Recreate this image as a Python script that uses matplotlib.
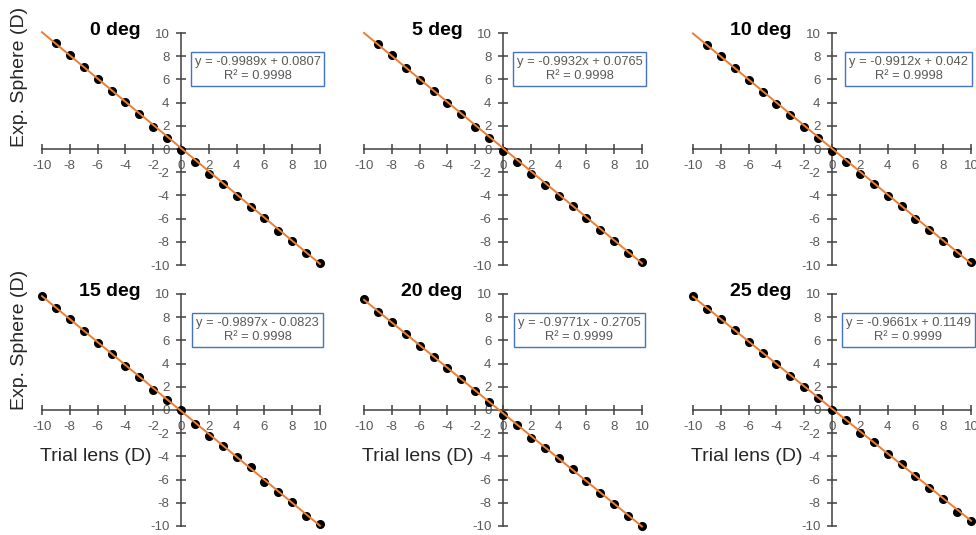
import numpy as np
import matplotlib.pyplot as plt

plt.rcParams['font.family'] = ['Liberation Sans', 'DejaVu Sans']
plt.rcParams['axes.unicode_minus'] = False

# angles and fitted trendlines
titles = ['0 deg', '5 deg', '10 deg', '15 deg', '20 deg', '25 deg']
slopes = [-0.9989, -0.9932, -0.9912, -0.9897, -0.9771, -0.9661]
intercepts = [0.0807, 0.0765, 0.042, -0.0823, -0.2705, 0.1149]
equations = ['y = -0.9989x + 0.0807', 'y = -0.9932x + 0.0765', 'y = -0.9912x + 0.042',
             'y = -0.9897x - 0.0823', 'y = -0.9771x - 0.2705', 'y = -0.9661x + 0.1149']
r2_labels = ['R² = 0.9998', 'R² = 0.9998', 'R² = 0.9998',
             'R² = 0.9998', 'R² = 0.9999', 'R² = 0.9999']

# trial lens values (D)
trial_top = [-9, -8, -7, -6, -5, -4, -3, -2, -1, 0, 1, 2, 3, 4, 5, 6, 7, 8, 9, 10]
trial_bottom = [-10, -9, -8, -7, -6, -5, -4, -3, -2, -1, 0, 1, 2, 3, 4, 5, 6, 7, 8, 9, 10]

sphere_0 = [9.11, 8.10, 7.04, 6.00, 5.02, 4.04, 3.00, 1.91, 0.99, -0.10,
            -1.10, -2.14, -3.04, -4.07, -4.96, -5.97, -7.04, -7.96, -8.99, -9.86]
sphere_5 = [9.05, 8.07, 6.98, 5.97, 4.96, 3.96, 2.98, 1.86, 0.91, -0.13,
            -1.08, -2.14, -3.09, -4.04, -4.91, -5.97, -6.98, -7.93, -8.94, -9.78]
sphere_10 = [8.96, 7.98, 6.95, 5.91, 4.94, 3.90, 2.92, 1.86, 0.91, -0.16,
             -1.14, -2.14, -3.04, -4.04, -4.91, -6.03, -6.98, -7.93, -8.99, -9.77]
sphere_15 = [9.86, 8.80, 7.85, 6.81, 5.78, 4.81, 3.83, 2.83, 1.76, 0.85, -0.04,
             -1.19, -2.25, -3.11, -4.06, -4.92, -6.18, -7.04, -7.96, -9.14, -9.86]
sphere_20 = [9.57, 8.47, 7.55, 6.52, 5.52, 4.58, 3.63, 2.63, 1.60, 0.68, -0.39,
             -1.33, -2.42, -3.26, -4.17, -5.12, -6.15, -7.16, -8.08, -9.14, -10.0]
sphere_25 = [9.80, 8.74, 7.88, 6.87, 5.84, 4.89, 3.97, 2.94, 1.96, 1.02, -0.01,
             -0.87, -2.02, -2.73, -3.77, -4.63, -5.68, -6.75, -7.64, -8.76, -9.56]

xs = [trial_top] * 3 + [trial_bottom] * 3
ys = [sphere_0, sphere_5, sphere_10, sphere_15, sphere_20, sphere_25]

W, H = 976, 535
fig = plt.figure(figsize=(W / 100, H / 100), dpi=100)

lefts = [42, 364, 693]
tops = [33, 294]
aw, ah = 278, 232

ticks = np.arange(-10, 11, 2)
for i in range(6):
    row, col = divmod(i, 3)
    ax = fig.add_axes([lefts[col] / W, 1 - (tops[row] + ah) / H, aw / W, ah / H])
    ax.set_xlim(-10, 10)
    ax.set_ylim(-10, 10)
    for s in ['top', 'right']:
        ax.spines[s].set_visible(False)
    for s in ['left', 'bottom']:
        ax.spines[s].set_position(('data', 0))
        ax.spines[s].set_color('#404040')
        ax.spines[s].set_linewidth(1.1)
    ax.set_xticks(ticks)
    ax.set_yticks(ticks)
    ax.tick_params(direction='inout', length=6.5, width=1.1, color='#404040',
                   labelcolor='#595959', labelsize=9.5, pad=5)
    ax.patch.set_alpha(0)

    ax.plot(xs[i], ys[i], 'o', color='black', markersize=5.5, clip_on=False, zorder=3)
    xl = np.array([-10, 10])
    ax.plot(xl, slopes[i] * xl + intercepts[i], color='#ED7D31', lw=1.4,
            clip_on=False, zorder=4)

    ax.text(-2.9, 10.2, titles[i], fontsize=14, fontweight='bold',
            ha='right', va='center', color='black')
    ax.text(5.5, 6.9, equations[i] + '\n' + r2_labels[i], fontsize=9.3,
            color='#595959', ha='center', va='center', linespacing=1.15,
            bbox=dict(boxstyle='square,pad=0.3', fc='white', ec='#4472C4', lw=1))
    if row == 1:
        ax.text(-2.1, -4.0, 'Trial lens (D)', fontsize=14, ha='right',
                va='center', color='#262626')

fig.text(20 / W, 1 - 77 / H, 'Exp. Sphere (D)', rotation=90, fontsize=14,
         ha='center', va='center', color='#262626')
fig.text(20 / W, 1 - 340 / H, 'Exp. Sphere (D)', rotation=90, fontsize=14,
         ha='center', va='center', color='#262626')

fig.savefig('out.png', dpi=100)
